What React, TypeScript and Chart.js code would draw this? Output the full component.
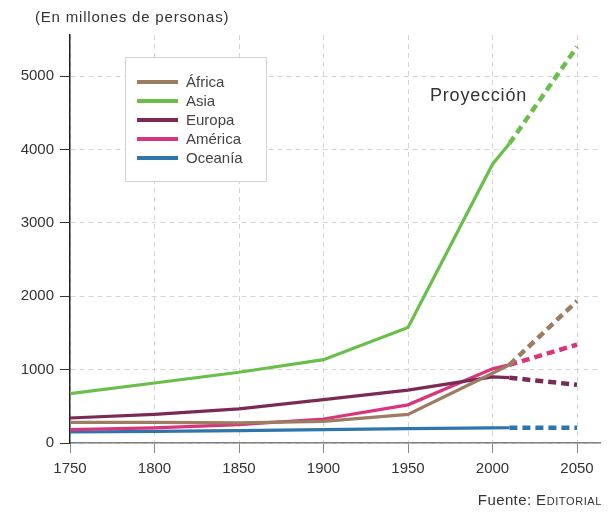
import React, { useEffect, useRef } from 'react';
import { Chart, registerables } from 'chart.js';

Chart.register(...registerables);

// Years (solid up to 2010, projection 2010-2050)
const years = [1750, 1800, 1850, 1900, 1950, 2000, 2010, 2050];
const projectionStart = 2010;

const seriesLabels = ['África', 'Asia', 'Europa', 'América', 'Oceanía'];
const africa = [282, 282, 275, 295, 390, 950, 1065, 1935];
const asia = [673, 818, 964, 1136, 1575, 3800, 4080, 5400];
const europa = [341, 390, 464, 591, 720, 900, 890, 793];
const america = [182, 205, 250, 327, 520, 1010, 1065, 1340];
const oceania = [150, 158, 168, 182, 195, 205, 208, 208];
const seriesColors = ['#9c7c62', '#6abf4b', '#7b2a55', '#d9357a', '#2e74ad'];

const xTicks = [1750, 1800, 1850, 1900, 1950, 2000, 2050];
const yTicks = [0, 1000, 2000, 3000, 4000, 5000];

const FONT = '"Liberation Sans", Arial, Helvetica, sans-serif';

const overlayPlugin = {
  id: 'overlay',
  afterDatasetsDraw(chart: any) {
    const ctx = chart.ctx as CanvasRenderingContext2D;
    ctx.save();
    // legend box
    ctx.fillStyle = '#ffffff';
    ctx.fillRect(125.5, 57.5, 141, 124);
    ctx.strokeStyle = '#d2d2d2';
    ctx.lineWidth = 1;
    ctx.strokeRect(125.5, 57.5, 141, 124);
    chart.data.datasets.forEach((ds: any, i: number) => {
      const y = 82 + i * 19;
      ctx.strokeStyle = ds.borderColor;
      ctx.lineWidth = 4;
      ctx.setLineDash([]);
      ctx.beginPath();
      ctx.moveTo(137, y);
      ctx.lineTo(178, y);
      ctx.stroke();
      ctx.fillStyle = '#444';
      ctx.font = '15px ' + FONT;
      ctx.textBaseline = 'middle';
      ctx.textAlign = 'left';
      ctx.fillText(ds.label, 186, y + 1);
    });
    // projection label
    (ctx as any).letterSpacing = '0.8px';
    ctx.font = '18px ' + FONT;
    ctx.fillStyle = '#333';
    ctx.textBaseline = 'middle';
    ctx.fillText('Proyección', 430, 96);
    ctx.restore();
  },
};

export default function App() {
  const canvasRef = useRef<HTMLCanvasElement | null>(null);

  useEffect(() => {
    if (!canvasRef.current) return;
    const all = [africa, asia, europa, america, oceania];
    const datasets = all.map((vals, i) => ({
      label: seriesLabels[i],
      data: vals.map((v, j) => ({ x: years[j], y: v })),
      borderColor: seriesColors[i],
      backgroundColor: seriesColors[i],
      borderWidth: 3.2,
      pointRadius: 0,
      tension: 0,
      fill: false,
      segment: {
        borderDash: (c: any) => (c.p0.parsed.x >= projectionStart ? [8, 5] : undefined),
        borderWidth: (c: any) => (c.p0.parsed.x >= projectionStart ? 4.5 : 3.2),
      },
    }));

    const chart = new Chart(canvasRef.current, {
      type: 'line',
      data: { datasets },
      plugins: [overlayPlugin],
      options: {
        animation: false,
        responsive: true,
        maintainAspectRatio: false,
        layout: { padding: { top: 35, right: 8, left: 0, bottom: 0 } },
        plugins: {
          legend: { display: false },
          tooltip: { enabled: false },
          title: { display: false },
        },
        scales: {
          x: {
            type: 'linear',
            min: 1750,
            max: 2063.6,
            afterFit: (s: any) => {
              s.height = 70;
            },
            afterBuildTicks: (s: any) => {
              s.ticks = xTicks.map((v) => ({ value: v }));
            },
            ticks: {
              autoSkip: false,
              maxRotation: 0,
              padding: 7,
              color: '#333',
              font: { family: FONT, size: 15 },
              callback: (v: any) => String(v),
            },
            grid: {
              color: '#d6d6d6',
              lineWidth: 1,
              drawTicks: true,
              tickLength: 10,
              tickColor: '#888',
              tickBorderDash: [],
            },
            border: { display: true, color: '#808080', width: 1.5, dash: [5, 4] },
          },
          y: {
            type: 'linear',
            min: 0,
            max: 5560,
            afterFit: (s: any) => {
              s.width = 70;
            },
            afterBuildTicks: (s: any) => {
              s.ticks = yTicks.map((v) => ({ value: v }));
            },
            ticks: {
              padding: 6,
              color: '#333',
              font: { family: FONT, size: 15 },
              callback: (v: any) => String(v),
            },
            grid: {
              color: '#d6d6d6',
              lineWidth: 1,
              drawTicks: true,
              tickLength: 10,
              tickColor: '#333',
              tickBorderDash: [],
            },
            border: { display: true, color: '#222', width: 1.5, dash: [5, 4] },
          },
        },
      },
    });
    return () => chart.destroy();
  }, []);

  return (
    <div
      style={{
        position: 'absolute',
        left: 0,
        top: 0,
        width: 608,
        height: 513,
        background: '#fff',
        fontFamily: FONT,
      }}
    >
      <canvas ref={canvasRef} style={{ position: 'absolute', left: 0, top: 0 }} />
      <div
        style={{
          position: 'absolute',
          left: 35,
          top: 8,
          fontSize: 15,
          lineHeight: '18px',
          letterSpacing: '0.8px',
          color: '#333',
          whiteSpace: 'nowrap',
        }}
      >
        (En millones de personas)
      </div>
      <div
        style={{
          position: 'absolute',
          right: 6,
          top: 491,
          fontSize: 15,
          lineHeight: '18px',
          color: '#333',
          whiteSpace: 'nowrap',
          letterSpacing: '0.4px',
        }}
      >
        Fuente: <span style={{ fontVariant: 'small-caps', letterSpacing: '0.6px' }}>Editorial</span>
      </div>
    </div>
  );
}
